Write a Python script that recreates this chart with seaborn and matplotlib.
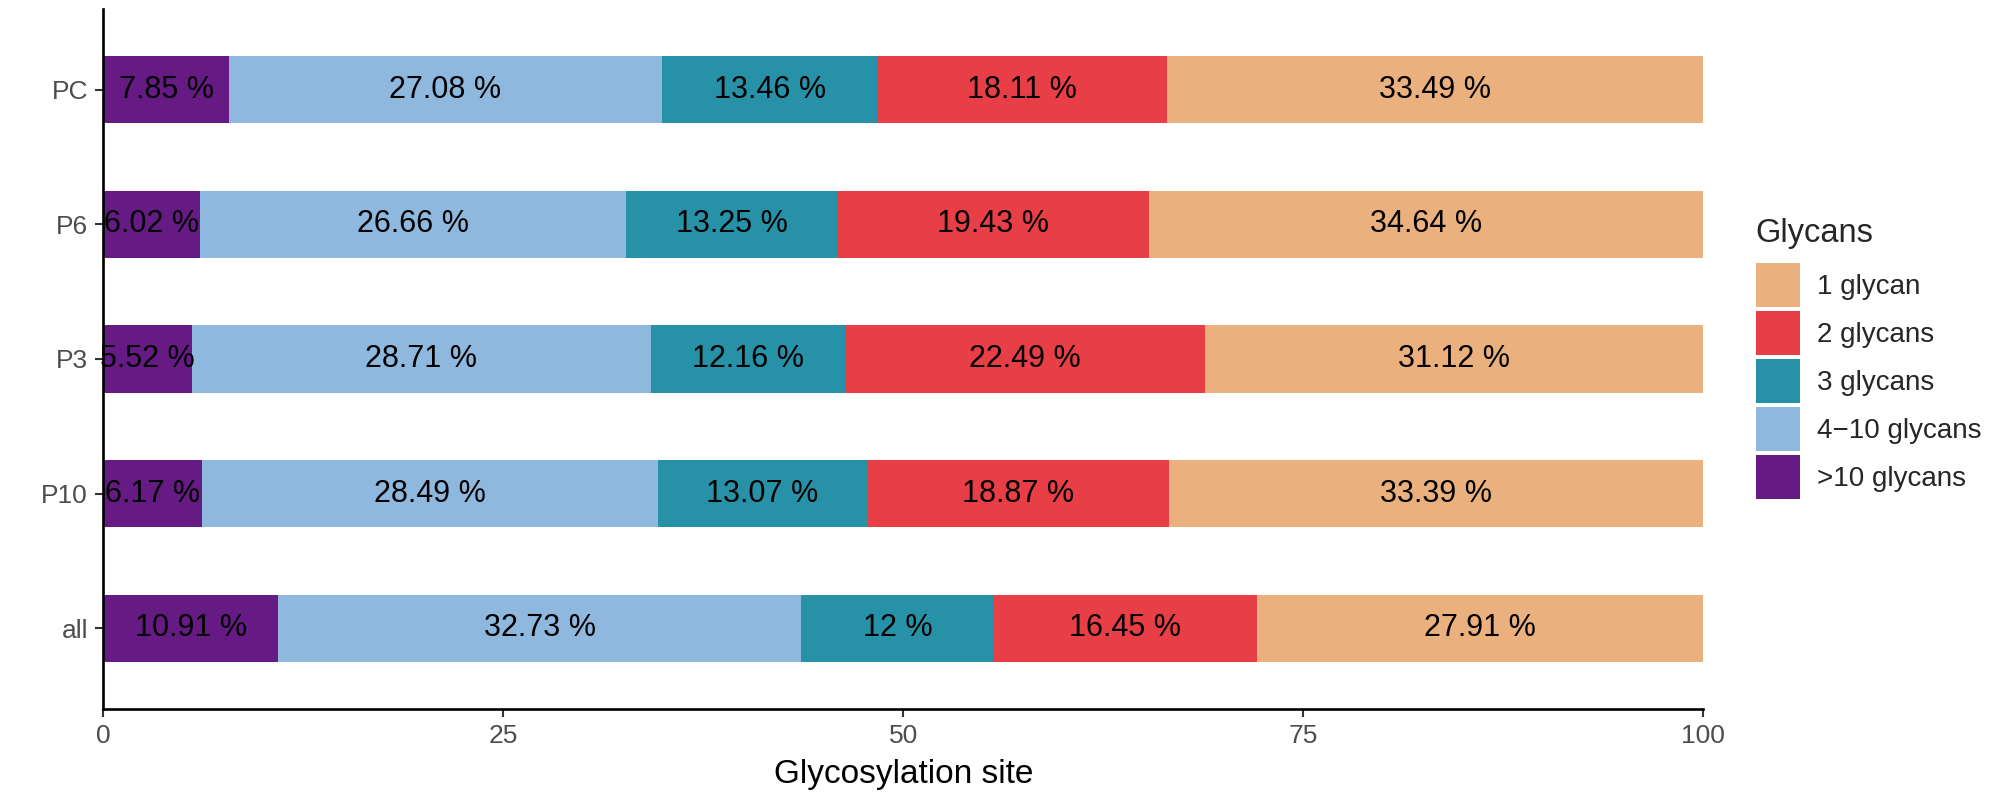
import numpy as np
import pandas as pd
import matplotlib
matplotlib.use("Agg")
import matplotlib.pyplot as plt
from matplotlib.patches import Patch
import seaborn as sns

# Data (percent of glycosylation sites per sample)
samples = ["PC", "P6", "P3", "P10", "all"]
glycan_groups = [">10 glycans", "4\u221210 glycans", "3 glycans", "2 glycans", "1 glycan"]
pct_gt10 = [7.85, 6.02, 5.52, 6.17, 10.91]
pct_4to10 = [27.08, 26.66, 28.71, 28.49, 32.73]
pct_3 = [13.46, 13.25, 12.16, 13.07, 12.00]
pct_2 = [18.11, 19.43, 22.49, 18.87, 16.45]
pct_1 = [33.49, 34.64, 31.12, 33.39, 27.91]

colors = {
    ">10 glycans": "#661A84",
    "4\u221210 glycans": "#8FB8DE",
    "3 glycans": "#2791A7",
    "2 glycans": "#E83E45",
    "1 glycan": "#EAB07D",
}

sns.set_style("white")
plt.rcParams['font.family'] = ['Liberation Sans', 'DejaVu Sans']

df = pd.DataFrame({
    "sample": samples,
    ">10 glycans": pct_gt10,
    "4\u221210 glycans": pct_4to10,
    "3 glycans": pct_3,
    "2 glycans": pct_2,
    "1 glycan": pct_1,
})
cum = df[glycan_groups].cumsum(axis=1)

fig = plt.figure(figsize=(19.96, 8), dpi=100)
ax = fig.add_axes([0.0518, 0.11375, 0.8014, 0.875])

# stacked bars by overlaying cumulative totals, widest first
for g in reversed(glycan_groups):
    sns.barplot(x=cum[g], y=df["sample"], order=samples, orient="h",
                color=colors[g], width=0.5, saturation=1, ax=ax, linewidth=0)

# segment labels
for i, s in enumerate(samples):
    for g in glycan_groups:
        v = df.loc[i, g]
        mid = cum.loc[i, g] - v / 2
        ax.text(mid, i, f"{v:g} %", ha="center", va="center",
                fontsize=22, color="black")

ax.set_xlim(0, 100)
ax.set_ylim(4.6, -0.6)
ax.set_xticks([0, 25, 50, 75, 100])
ax.set_xlabel("Glycosylation site", fontsize=24, color="black", labelpad=8)
ax.set_ylabel("")
ax.tick_params(axis="both", labelsize=19, labelcolor="#4D4D4D", color="#333333",
               length=6, width=1.5, direction="out", pad=5)
ax.tick_params(left=True, bottom=True)
for side in ["top", "right"]:
    ax.spines[side].set_visible(False)
for side in ["left", "bottom"]:
    ax.spines[side].set_linewidth(1.9)
    ax.spines[side].set_color("black")

# legend (title drawn separately for spacing control)
fig.text(0.8795, 0.6975, "Glycans", fontsize=23.5, ha="left", va="baseline")
handles = [Patch(facecolor=colors[g], edgecolor="none", label=g)
           for g in reversed(glycan_groups)]
leg = fig.legend(handles=handles, loc="upper left",
                 bbox_to_anchor=(0.880, 0.671), frameon=False, fontsize=20,
                 handlelength=1.58, handleheight=2.06,
                 labelspacing=0.144, handletextpad=0.6, borderaxespad=0,
                 borderpad=0)

fig.savefig("out.png", dpi=100)
